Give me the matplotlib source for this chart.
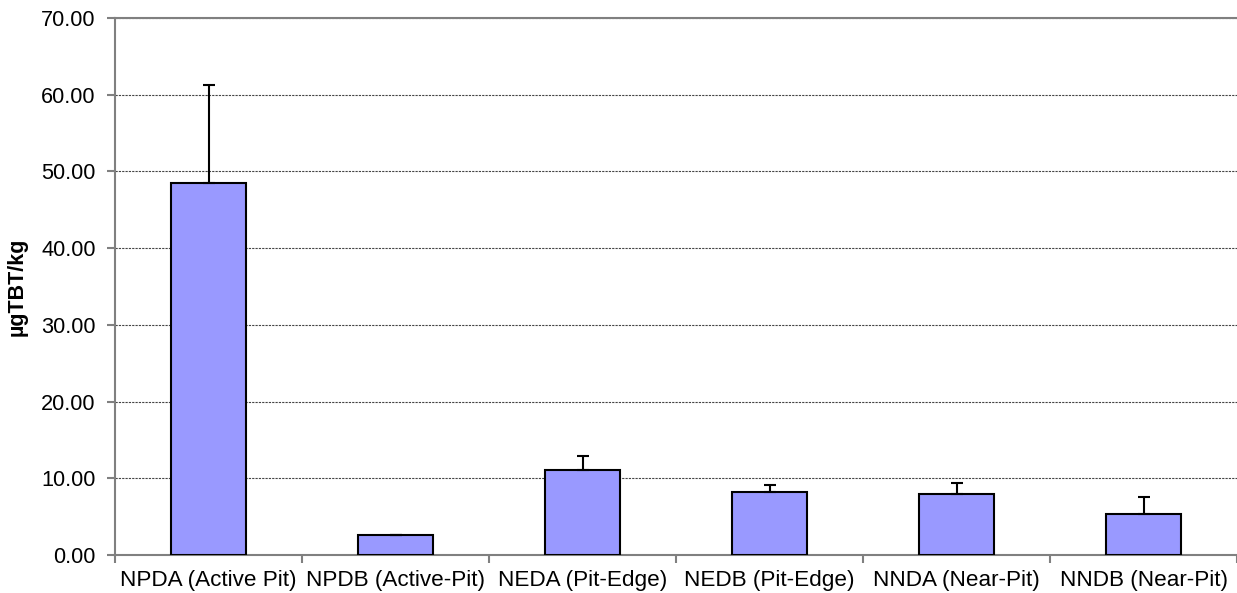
import matplotlib
matplotlib.use("Agg")
import matplotlib.pyplot as plt
import numpy as np

categories = ["NPDA (Active Pit)", "NPDB (Active-Pit)", "NEDA (Pit-Edge)",
              "NEDB (Pit-Edge)", "NNDA (Near-Pit)", "NNDB (Near-Pit)"]
values = [48.5, 2.55, 11.05, 8.2, 7.95, 5.3]
errors = [12.8, 0.0, 1.9, 0.95, 1.4, 2.25]
yticks = [0, 10, 20, 30, 40, 50, 60, 70]

plt.rcParams['font.family'] = ['Liberation Sans', 'DejaVu Sans']

fig = plt.figure(figsize=(12.37, 5.93), dpi=100)
ax = fig.add_axes([115/1237, 1-555/593, 1122/1237, 537/593])

x = np.arange(len(categories))
ax.bar(x, values, width=0.4, color='#9999ff', edgecolor='black', linewidth=1.5, zorder=3)
ax.errorbar(x, values, yerr=[np.zeros(len(errors)), errors], fmt='none',
            ecolor='black', elinewidth=1.5, capsize=4, capthick=1.5, zorder=4)

ax.set_xlim(-0.5, len(categories) - 0.5)
ax.set_ylim(0, 70)
ax.set_yticks(yticks)
ax.set_yticklabels([f"{v:.2f}" for v in yticks], fontsize=15.7)
ax.yaxis.grid(True, linestyle=(0, (2, 1)), color='#444444', linewidth=0.8, zorder=0)
ax.set_axisbelow(True)

ax.set_xticks(np.arange(len(categories) + 1) - 0.5, minor=False)
ax.set_xticklabels([])
ax.set_xticks(x, minor=True)
ax.set_xticklabels(categories, minor=True, fontsize=16.2)
ax.tick_params(axis='x', which='minor', length=0, pad=11)
ax.tick_params(axis='x', which='major', length=6, color='#808080', width=1.5)
ax.tick_params(axis='y', length=6, color='#808080', width=1.5, pad=8)

for s in ['left', 'bottom', 'top']:
    ax.spines[s].set_color('#808080')
    ax.spines[s].set_linewidth(1.5)
ax.spines['right'].set_visible(False)

ax.set_ylabel("µgTBT/kg", fontsize=15.5, fontweight='bold', labelpad=10)

fig.savefig("out.png", dpi=100)
